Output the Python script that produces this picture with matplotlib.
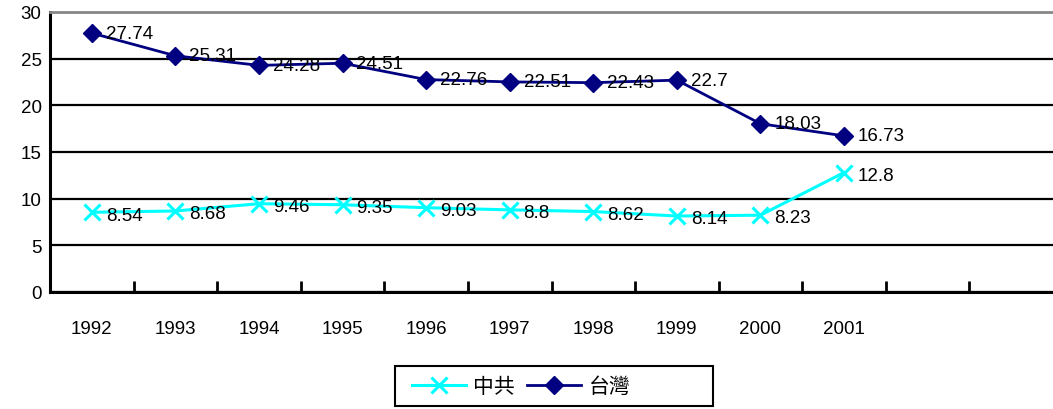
import matplotlib.pyplot as plt
from matplotlib.patches import Rectangle
import numpy as np

years = ['1992', '1993', '1994', '1995', '1996', '1997', '1998', '1999', '2000', '2001']
china = [8.54, 8.68, 9.46, 9.35, 9.03, 8.8, 8.62, 8.14, 8.23, 12.8]
taiwan = [27.74, 25.31, 24.28, 24.51, 22.76, 22.51, 22.43, 22.7, 18.03, 16.73]
n_slots = 12  # two empty categories after 2001

plt.rcParams['font.family'] = ['Liberation Sans', 'Noto Sans CJK TC', 'DejaVu Sans']

W, H = 1053, 410
fig = plt.figure(figsize=(W / 100, H / 100), dpi=100)
ax = fig.add_axes([50 / W, 1 - 293 / H, 1003 / W, 280 / H])

x = np.arange(len(years))
ax.plot(x, china, color='#00FFFF', lw=2.2, marker='x', ms=11, mew=2.2, label='中共', zorder=3)
ax.plot(x, taiwan, color='#000080', lw=2, marker='D', ms=9, label='台灣', zorder=3)

for xi, v in zip(x, china):
    ax.annotate(f'{v:g}', (xi, v), xytext=(10, -2), textcoords='offset points',
                ha='left', va='center', fontsize=13.5)
for xi, v in zip(x, taiwan):
    ax.annotate(f'{v:g}', (xi, v), xytext=(10, 0), textcoords='offset points',
                ha='left', va='center', fontsize=13.5)

ax.set_xlim(-0.5, n_slots - 0.5)
ax.set_ylim(0, 30)
ax.set_yticks(range(0, 31, 5))
ax.set_xticks(x)
ax.set_xticklabels(years)
ax.set_xticks(np.arange(0.5, n_slots - 0.5, 1), minor=True)
ax.tick_params(axis='x', which='major', length=0, pad=20, labelsize=13.5)
ax.tick_params(axis='x', which='minor', length=8, width=2, direction='in')
ax.tick_params(axis='y', length=0, pad=6, labelsize=13.5)

ax.grid(axis='y', color='black', lw=1.6)
ax.set_axisbelow(True)
for s in ['left', 'bottom']:
    ax.spines[s].set_linewidth(2.2)
    ax.spines[s].set_color('black')
ax.spines['top'].set_color('#888888')
ax.spines['top'].set_linewidth(2)
ax.spines['right'].set_visible(False)

# legend box is wider than its entries, as in the original
fig.patches.append(Rectangle((395 / W, 1 - 407 / H), 318 / W, 40 / H,
                             transform=fig.transFigure, fill=False,
                             edgecolor='black', lw=1.5))
fig.legend(loc='center left', bbox_to_anchor=(397 / W, 1 - 387 / H), ncol=2,
           frameon=False, fontsize=15, handlelength=2.6, handletextpad=0.35,
           columnspacing=0.6, borderpad=0.2)

fig.savefig('out.png', dpi=100)
